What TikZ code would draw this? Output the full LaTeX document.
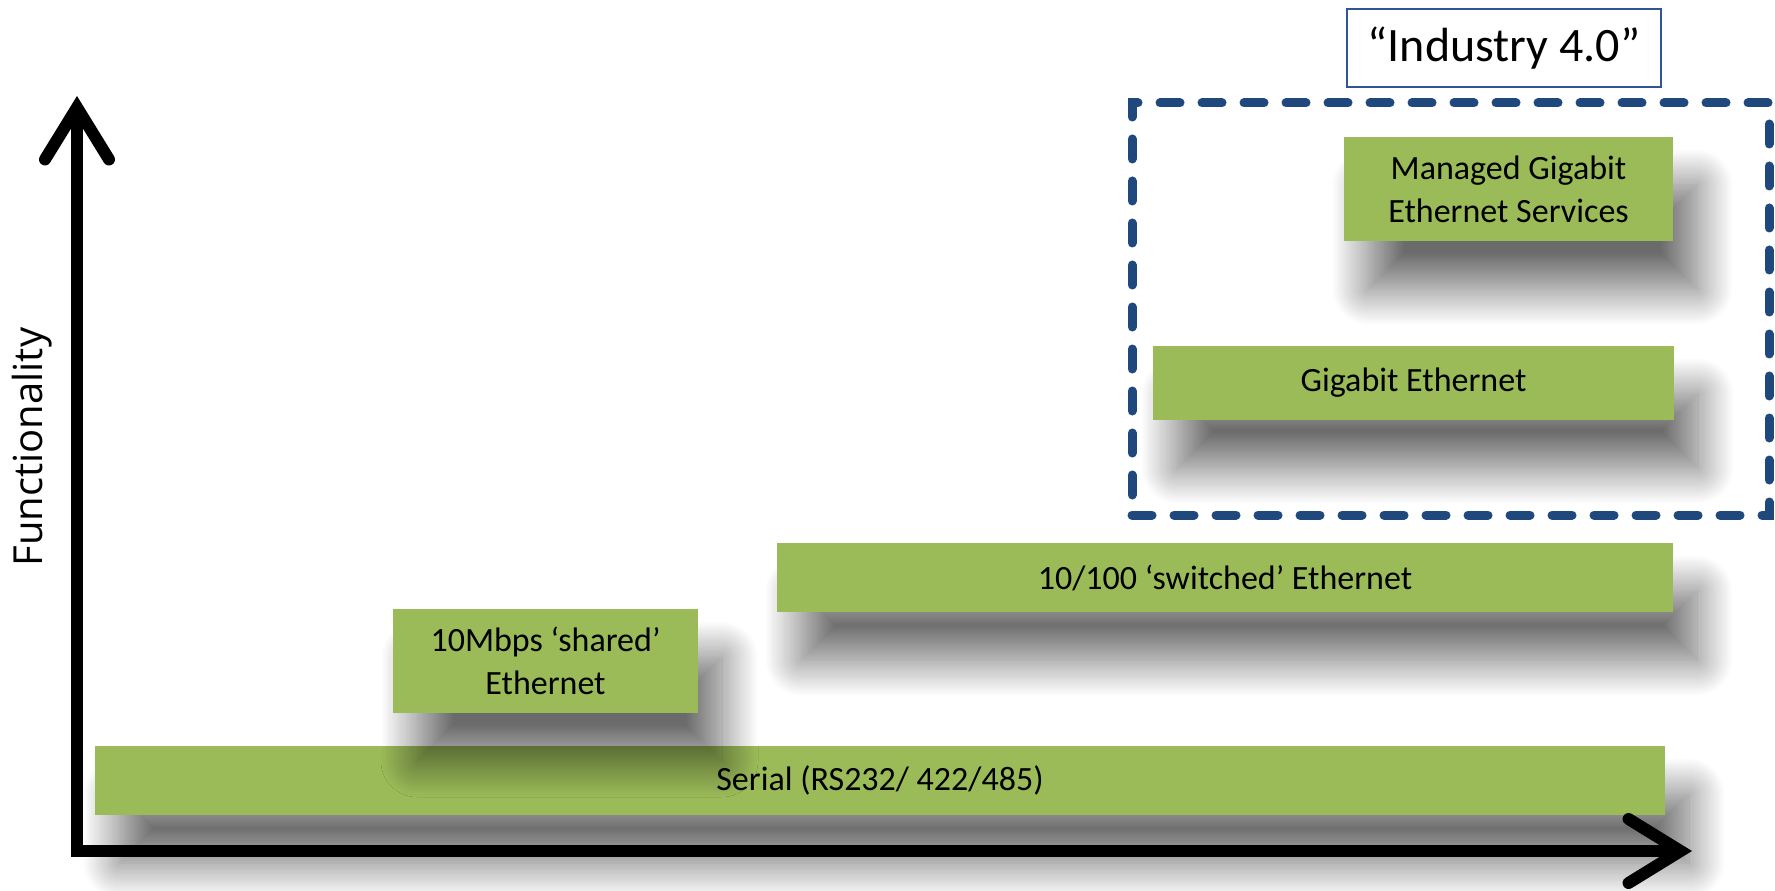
\documentclass[tikz,border=0pt]{standalone}
\usepackage{fontspec}
\setmainfont{Carlito}
\newfontfamily\axisfont{Open Sans}
\usepackage{tikz}
\usetikzlibrary{arrows.meta, positioning, shadows.blur}
\usepackage{xcolor}
\definecolor{barcolor}{HTML}{9BBB59}
\definecolor{framecolor}{HTML}{1F497D}
\definecolor{tagcolor}{HTML}{2F5597}

\begin{document}
\begin{tikzpicture}[
    x=0.5pt, y=0.5pt,
    bar/.style={rectangle, fill=barcolor, minimum height=34.5pt, inner sep=0pt,
                align=center, font=\fontsize{17}{21.5}\selectfont,
                blur shadow={shadow xshift=12pt, shadow yshift=-24pt,
                             shadow blur radius=18pt, shadow blur steps=40,
                             shadow opacity=58}},
    tallbar/.style={bar, minimum height=52pt},
    frame/.style={rectangle, draw=framecolor, line width=4.5pt, line cap=round,
                  dash pattern=on 10pt off 11pt,
                  minimum width=318.5pt, minimum height=206pt},
    tag/.style={rectangle, draw=tagcolor, line width=1pt, fill=white,
                minimum width=157pt, minimum height=39pt,
                font=\fontsize{24}{28}\selectfont},
    axis/.style={line width=6pt,
                 >={Straight Barb[length=26pt, width=32pt, line cap=round, line join=miter]}, <->}
]
    \useasboundingbox (0,0) rectangle (1775,890);

    % Industry 4.0 group
    \node[frame] (industry) at (1450.5,581) {};
    \node[tag] (tag) at (1504,842) {``Industry 4.0''};

    % Bars
    \node[bar, minimum width=785pt] (serial) at (880,109.5) {Serial (RS232/ 422/485)};
    \node[tallbar, minimum width=152.5pt] (shared) at (545.5,229) {10Mbps `shared'\\Ethernet};
    \node[bar, minimum width=448pt] (switched) at (1225,312.5) {10/100 `switched' Ethernet};
    \node[bar, minimum width=260.5pt, minimum height=37pt] (gigabit) at (1413.5,507) {Gigabit Ethernet};
    \node[tallbar, minimum width=164.5pt] (managed) at (1508.5,701) {Managed Gigabit\\Ethernet Services};

    % Axes
    \coordinate (origin) at (77,39);
    \coordinate (ytip) at (77,794);
    \coordinate (xtip) at (1692,39);
    \draw[axis] (ytip) -- (origin) -- (xtip);
    \node[rotate=90, font=\axisfont\fontsize{20}{24}\selectfont] (ylabel) at (32,443) {Functionality};

\end{tikzpicture}
\end{document}
